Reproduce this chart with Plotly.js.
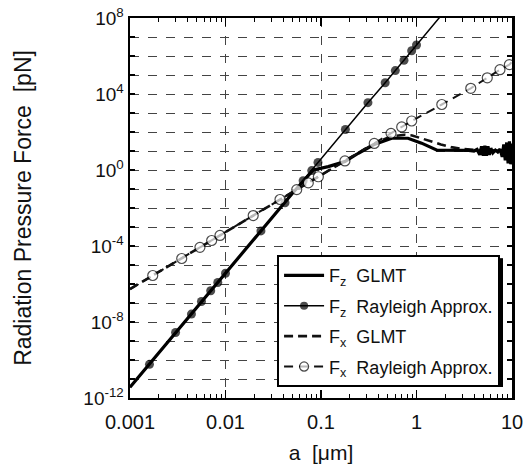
<!DOCTYPE html>
<html>
<head>
<meta charset="utf-8">
<script src="https://cdn.plot.ly/plotly-3.0.1.min.js"></script>
<style>html,body{margin:0;padding:0;background:#fff;}#chart{width:526px;height:472px;}</style>
</head>
<body>
<div id="chart"></div>
<script>
// ---- data ----
// Fz GLMT (solid thick)
const fzGlmtA = [0.001, 0.01, 0.05, 0.083, 0.119, 0.178, 0.246, 0.367, 0.55, 0.815, 1.13, 1.64, 2.5, 3.0, 3.5, 4.0, 4.3, 4.6, 4.8, 5.0, 5.2, 5.4, 5.6, 5.8, 6.0, 6.3, 6.7, 7.1, 7.5, 7.9, 8.2, 8.5, 8.8, 9.1, 9.4, 9.7, 10];
const fzGlmtF = [3.7e-12, 3.7e-6, 0.058, 1.0, 1.5, 2.75, 7.6, 23, 47, 47, 26, 11, 11, 11.7, 10.7, 10, 12, 6.3, 17.8, 5.6, 19, 5.6, 17.8, 6.3, 14, 8, 11.2, 8.9, 12.6, 5, 22, 3.2, 28, 2.2, 32, 2, 25];
// Fz Rayleigh approximation (thin line, filled circles)
const fzRayLineA = [0.001, 1.75];
const fzRayLineF = [3.7e-12, 1.1e8];
const fzRayA = [0.0016, 0.003, 0.0044, 0.0056, 0.007, 0.0083, 0.01, 0.0235, 0.042, 0.065, 0.08, 0.093, 0.18, 0.31, 0.47, 0.6, 0.74, 0.89, 1.0];
const fzRayF = [5.9e-11, 2.8e-9, 2.6e-8, 1.2e-7, 4.4e-7, 1.2e-6, 3.7e-6, 6.2e-4, 0.019, 0.27, 0.93, 2.5, 135, 3500, 3.9e4, 1.7e5, 6.0e5, 1.9e6, 3.8e6];
// Fx GLMT (dashed)
const fxGlmtA = [0.001, 0.01, 0.1, 0.2, 0.3, 0.4, 0.5, 0.6, 0.75, 0.9, 1.0, 1.28, 1.8, 2.3, 3.0, 4.0, 6.0, 10];
const fxGlmtF = [5.4e-7, 5.4e-4, 0.54, 4.3, 14.5, 31, 50, 63, 72, 66, 56, 35, 22, 16, 13, 11.5, 11, 10];
// Fx Rayleigh approximation (dashed, open circles)
const fxRayLineA = [0.001, 10];
const fxRayLineF = [5.4e-7, 5.0e5];
const fxRayA = [0.00173, 0.00348, 0.0054, 0.00716, 0.00875, 0.0195, 0.0372, 0.0557, 0.0736, 0.0938, 0.178, 0.361, 0.541, 0.70, 0.89, 1.84, 3.70, 5.51, 7.48, 9.38];
const fxRayF = [2.8e-6, 2.2e-5, 8.5e-5, 1.95e-4, 3.6e-4, 4.0e-3, 0.028, 0.093, 0.21, 0.44, 3.0, 25, 85, 185, 380, 2800, 2.0e4, 7.1e4, 1.9e5, 3.5e5];

const xTickVals = [0.001, 0.01, 0.1, 1, 10];
const xTickText = ['0.001', '0.01', '0.1', '1', '10'];
const yGridExps = [-12,-11,-10,-9,-8,-7,-6,-5,-4,-3,-2,-1,0,1,2,3,4,5,6,7,8];
const yLabelExps = [-12, -8, -4, 0, 4, 8];

const legendNames = ['F<sub>z</sub>\u00a0 GLMT', 'F<sub>z</sub>\u00a0 Rayleigh Approx.', 'F<sub>x</sub>\u00a0 GLMT', 'F<sub>x</sub>\u00a0 Rayleigh Approx.'];

// ---- build ----
function withEnds(lineA, lineF, ptsA, ptsF) {
  const xs = [lineA[0]].concat(ptsA, [lineA[1]]);
  const ys = [lineF[0]].concat(ptsF, [lineF[1]]);
  const sizes = xs.map((_, i) => (i === 0 || i === xs.length - 1) ? 0 : 1);
  return {xs, ys, sizes};
}
const fzR = withEnds(fzRayLineA, fzRayLineF, fzRayA, fzRayF);
const fxR = withEnds(fxRayLineA, fxRayLineF, fxRayA, fxRayF);

const traces = [
  {x: fxGlmtA, y: fxGlmtF, mode: 'lines', name: legendNames[2], legendrank: 3, legendgroup: 'c',
   line: {color: '#111', width: 2.6, dash: '9px,5px'}},
  {x: fzGlmtA, y: fzGlmtF, mode: 'lines', name: legendNames[0], legendrank: 1, legendgroup: 'a',
   line: {color: '#000', width: 3.2}},
  {x: fzR.xs, y: fzR.ys, mode: 'lines+markers', name: legendNames[1], legendrank: 2, legendgroup: 'b',
   line: {color: '#000', width: 1.5},
   marker: {color: '#000', size: fzR.sizes.map(s => s * 9), line: {width: 0}}},
  {x: fxR.xs, y: fxR.ys, mode: 'lines+markers', name: legendNames[3], legendrank: 4, legendgroup: 'd',
   line: {color: '#111', width: 2, dash: '9px,6px'},
   marker: {color: '#fff', size: fxR.sizes.map(s => s * 10), line: {color: '#000', width: 1.2}}}
];

const font = 'Arial, "Liberation Sans", Helvetica, sans-serif';
const layout = {
  width: 526, height: 472,
  margin: {l: 130, r: 14, t: 18, b: 74},
  paper_bgcolor: '#fff', plot_bgcolor: '#fff',
  font: {family: font, color: '#111'},
  showlegend: true,
  legend: {
    x: 0.385, y: 0.376, xanchor: 'left', yanchor: 'top',
    bgcolor: '#fff', bordercolor: '#000', borderwidth: 2,
    font: {family: font, size: 18, color: '#111'},
    tracegroupgap: 4, itemwidth: 40
  },
  xaxis: {
    type: 'log', range: [-3, 1],
    tickmode: 'array', tickvals: xTickVals, ticktext: xTickText,
    ticks: 'inside', ticklen: 8, tickwidth: 1.5, tickcolor: '#000',
    ticklabelstandoff: 5,
    showline: true, linecolor: '#000', linewidth: 2, mirror: 'allticks',
    showgrid: true, gridcolor: '#444', gridwidth: 1, griddash: 'dash',
    zeroline: false,
    tickfont: {family: font, size: 20, color: '#111'},
    minor: {ticks: 'inside', ticklen: 4, tickwidth: 1, tickcolor: '#000', dtick: 'D1', showgrid: false},
    title: {text: 'a\u00a0 [\u03bcm]', font: {family: font, size: 21, color: '#111'}, standoff: 13}
  },
  yaxis: {
    type: 'log', range: [-12, 8],
    tickmode: 'array',
    tickvals: yLabelExps.map(e => Math.pow(10, e)),
    ticktext: yLabelExps.map(e => '10<sup>' + e + '</sup>'),
    ticks: 'inside', ticklen: 5, tickwidth: 2.5, tickcolor: '#000',
    showline: true, linecolor: '#000', linewidth: 2.5, mirror: 'allticks',
    showgrid: true, gridcolor: '#444', gridwidth: 1, griddash: 'dash',
    zeroline: false,
    tickfont: {family: font, size: 19, color: '#111'},
    minor: {tickmode: 'array', tickvals: yGridExps.map(e => Math.pow(10, e)),
            ticks: 'inside', ticklen: 5, tickwidth: 2.5, tickcolor: '#000',
            showgrid: true, gridcolor: '#444', gridwidth: 1, griddash: 'dash'},
    title: {text: 'Radiation Pressure Force\u00a0 [pN]', font: {family: font, size: 23, color: '#111'}, standoff: 46}
  },
  shapes: [
    {type: 'rect', xref: 'paper', yref: 'paper', layer: 'above',
     x0: 0.9686, x1: 0.9764, y0: 0.0290, y1: 0.368, fillcolor: '#000', line: {width: 0}},
    {type: 'rect', xref: 'paper', yref: 'paper', layer: 'above',
     x0: 0.3927, x1: 0.9764, y0: 0.0290, y1: 0.0421, fillcolor: '#000', line: {width: 0}}
  ]
};

Plotly.newPlot('chart', traces, layout, {displayModeBar: false, staticPlot: true});
</script>
</body>
</html>
